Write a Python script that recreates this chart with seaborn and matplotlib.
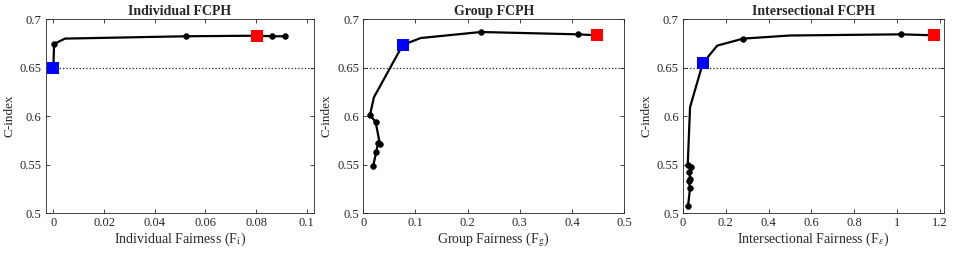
import matplotlib
matplotlib.use("Agg")
import matplotlib.pyplot as plt
import seaborn as sns

# --- data ---
ind_x = [0.0, 0.0003, 0.0046, 0.0522, 0.0803, 0.0864, 0.0915]
ind_y = [0.6498, 0.6743, 0.6798, 0.6822, 0.6828, 0.6822, 0.6822]
ind_dots = [1, 3, 5, 6]
ind_blue = 0
ind_red = 4

grp_x = [0.0192, 0.0250, 0.0283, 0.0321, 0.0290, 0.0238, 0.0129, 0.0205,
         0.0756, 0.1100, 0.2256, 0.4115, 0.4480]
grp_y = [0.5488, 0.5634, 0.5720, 0.5714, 0.5790, 0.5937, 0.6012, 0.6194,
         0.6732, 0.6804, 0.6866, 0.6842, 0.6832]
grp_dots = [0, 1, 2, 3, 5, 6, 10, 11]
grp_blue = 8
grp_red = 12

sec_x = [0.0235, 0.0330, 0.0270, 0.0330, 0.0300, 0.0360, 0.0220, 0.0330,
         0.0925, 0.1600, 0.2816, 0.5000, 1.0200, 1.1720]
sec_y = [0.5073, 0.5255, 0.5334, 0.5355, 0.5420, 0.5475, 0.5490, 0.6091,
         0.6544, 0.6726, 0.6798, 0.6830, 0.6842, 0.6832]
sec_dots = [0, 1, 2, 3, 4, 5, 6, 10, 12]
sec_blue = 8
sec_red = 13

baseline = 0.65

titles = ["Individual FCPH", "Group FCPH", "Intersectional FCPH"]
xlabels = [r"Individual Fairness (F$_{\rm i}$)",
           r"Group Fairness (F$_{\rm g}$)",
           r"Intersectional Fairness (F$_{\epsilon}$)"]
xlims = [(-0.003, 0.103), (0.0, 0.5), (0.0, 1.22)]
xticks = [[0, 0.02, 0.04, 0.06, 0.08, 0.1],
          [0, 0.1, 0.2, 0.3, 0.4, 0.5],
          [0, 0.2, 0.4, 0.6, 0.8, 1.0, 1.2]]
xticklabels = [["0", "0.02", "0.04", "0.06", "0.08", "0.1"],
               ["0", "0.1", "0.2", "0.3", "0.4", "0.5"],
               ["0", "0.2", "0.4", "0.6", "0.8", "1", "1.2"]]
yticks = [0.5, 0.55, 0.6, 0.65, 0.7]
yticklabels = ["0.5", "0.55", "0.6", "0.65", "0.7"]

sns.set_theme(style="ticks")
plt.rcParams["font.family"] = ["Liberation Serif", "DejaVu Serif"]
plt.rcParams["mathtext.fontset"] = "stix"

fig = plt.figure(figsize=(9.59, 2.59), dpi=100)
positions = [
    [0.0477, 0.1776, 0.2800, 0.7490],
    [0.3788, 0.1776, 0.2720, 0.7490],
    [0.7122, 0.1776, 0.2722, 0.7490],
]

panels = [
    (ind_x, ind_y, ind_dots, ind_blue, ind_red),
    (grp_x, grp_y, grp_dots, grp_blue, grp_red),
    (sec_x, sec_y, sec_dots, sec_blue, sec_red),
]

for i, (xs, ys, dots, bi, ri) in enumerate(panels):
    ax = fig.add_axes(positions[i])
    ax.axhline(baseline, color="0.15", linestyle=":", linewidth=0.9, zorder=1)
    sns.lineplot(x=xs, y=ys, sort=False, estimator=None, color="black",
                 linewidth=1.6, ax=ax, zorder=2)
    sns.scatterplot(x=[xs[k] for k in dots], y=[ys[k] for k in dots],
                    color="black", s=18, edgecolor="black", ax=ax, zorder=3)
    sns.scatterplot(x=[xs[bi]], y=[ys[bi]], marker="s", color="#0000ff",
                    s=65, edgecolor="#0000ff", linewidth=0, ax=ax, zorder=4)
    sns.scatterplot(x=[xs[ri]], y=[ys[ri]], marker="s", color="#ff0000",
                    s=65, edgecolor="#ff0000", linewidth=0, ax=ax, zorder=4)

    ax.set_xlim(*xlims[i])
    ax.set_ylim(0.5, 0.7)
    ax.set_xticks(xticks[i])
    ax.set_xticklabels(xticklabels[i])
    ax.set_yticks(yticks)
    ax.set_yticklabels(yticklabels)
    ax.tick_params(direction="in", top=True, right=True, length=3,
                   width=0.6, labelsize=9, colors="0.15", pad=3)
    for sp in ax.spines.values():
        sp.set_visible(True)
        sp.set_color("0.15")
        sp.set_linewidth(0.6)
    ax.set_title(titles[i], fontsize=10, fontweight="bold", pad=3)
    ax.set_xlabel(xlabels[i], fontsize=10, color="0.15", labelpad=1)
    ax.set_ylabel("C-index", fontsize=9.5, color="0.15", labelpad=3)

fig.savefig("out.png", dpi=100)
